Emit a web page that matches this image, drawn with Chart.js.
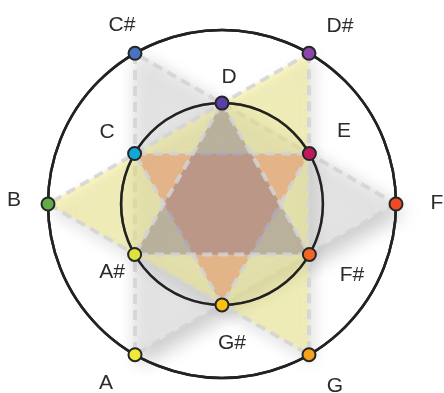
<!DOCTYPE html>
<html><head><meta charset="utf-8">
<script src="https://cdn.jsdelivr.net/npm/chart.js@4"></script>
<style>html,body{margin:0;padding:0;background:#fff}#wrap{width:444px;height:393px}</style>
</head><body><div id="wrap"><canvas id="c" width="444" height="393"></canvas></div>
<script>
// Chromatic notes, clockwise from the top
const notes = ['D','D#','E','F','F#','G','G#','A','A#','B','C','C#'];
const rings = ['inner','outer','inner','outer','inner','outer','inner','outer','inner','outer','inner','outer'];
const ringRadius = {inner: 0.58, outer: 1};
const noteColors = ['#5b3fa6','#8e44ad','#c2185b','#f04a23','#f26522','#f7a21b',
                    '#fbc013','#f2e83a','#dbe33c','#62ab47','#0fa8d8','#4a72c0'];
// augmented triads
const triadYellow = ['B','D#','G'];
const triadGray   = ['C#','F','A'];
const triadOrange = ['C','E','G#'];
const triadInner  = ['D','F#','A#'];

const radii = rings.map(r => ringRadius[r]);
const triangleData = tri => notes.map((n, i) => tri.includes(n) ? radii[i] : null);

function triangle(tri, fillColor, shadow) {
  return {
    data: triangleData(tri),
    spanGaps: true,
    fill: true,
    backgroundColor: fillColor,
    borderColor: 'rgba(212,212,212,0.85)',
    borderWidth: 4,
    borderDash: [10, 6],
    pointRadius: 0,
    pointHoverRadius: 0,
    shadow: shadow
  };
}

const shadowPlugin = {
  id: 'shadows',
  beforeDatasetsDraw(chart) {
    chart.ctx.save();
    applyShadow(chart, chart.data.datasets.length - 1);
  },
  afterDatasetDraw(chart, args) {
    if (args.index === 1) {
      applyShadow(chart, -1);
      chart.scales.r.drawGrid();
    }
    applyShadow(chart, args.index - 1);
  },
  afterDatasetsDraw(chart) { chart.ctx.restore(); }
};
function applyShadow(chart, index) {
  const ctx = chart.ctx;
  const ds = chart.data.datasets[index];
  const s = ds && ds.shadow;
  if (s) {
    ctx.shadowColor = s.color; ctx.shadowBlur = s.blur;
    ctx.shadowOffsetX = s.dx; ctx.shadowOffsetY = s.dy;
  } else {
    ctx.shadowColor = 'rgba(0,0,0,0)'; ctx.shadowBlur = 0;
    ctx.shadowOffsetX = 0; ctx.shadowOffsetY = 0;
  }
}

const labelPlugin = {
  id: 'noteLabels',
  afterDraw(chart, args, opts) {
    const ctx = chart.ctx;
    const scale = chart.scales.r;
    ctx.save();
    ctx.font = opts.font;
    ctx.fillStyle = opts.color;
    ctx.textAlign = 'center';
    ctx.textBaseline = 'middle';
    notes.forEach((n, i) => {
      const p = scale.getPointPosition(i, opts.distance[rings[i]]);
      const nudge = opts.nudge[i];
      ctx.fillText(n, p.x + nudge[0], p.y + nudge[1]);
    });
    ctx.restore();
  }
};

new Chart(document.getElementById('c'), {
  type: 'radar',
  data: {
    labels: notes,
    datasets: [
      {
        data: radii,
        showLine: false,
        fill: false,
        borderWidth: 0,
        pointRadius: 6.5,
        pointHoverRadius: 6.5,
        pointBackgroundColor: noteColors,
        pointBorderColor: '#262626',
        pointBorderWidth: 2
      },
      triangle(triadInner, 'rgba(125,108,135,0.4)', null),
      triangle(triadOrange, 'rgba(228,138,100,0.5)', null),
      triangle(triadYellow, 'rgba(250,241,138,0.5)', {color:'rgba(0,0,0,0.2)', blur:16, dx:4, dy:7}),
      triangle(triadGray, 'rgba(238,238,238,0.68)', {color:'rgba(0,0,0,0.3)', blur:20, dx:5, dy:8})
    ]
  },
  options: {
    responsive: false,
    animation: false,
    devicePixelRatio: 1,
    layout: {padding: {top: 18, bottom: 3, left: 0, right: 0}},
    events: [],
    scales: {
      r: {
        min: 0,
        max: 1.069,
        startAngle: 0,
        afterBuildTicks(scale) {
          scale.ticks = [{value: 0}, {value: ringRadius.inner}, {value: ringRadius.outer}];
        },
        ticks: {display: false},
        pointLabels: {display: false},
        angleLines: {display: false},
        grid: {circular: true, color: '#222', lineWidth: 2.5}
      }
    },
    plugins: {
      legend: {display: false},
      tooltip: {enabled: false},
      noteLabels: {
        font: '21px "Liberation Sans", Arial, sans-serif',
        color: '#2b2b2b',
        distance: {inner: 135, outer: 210},
        nudge: [[7,8],[13,4],[5,-5],[5,-1],[13,4],[8,0],[10,4],[-11,-3],[7,1],[2,-4],[2,-4],[5,3]]
      }
    }
  },
  plugins: [shadowPlugin, labelPlugin]
});
</script></body></html>
